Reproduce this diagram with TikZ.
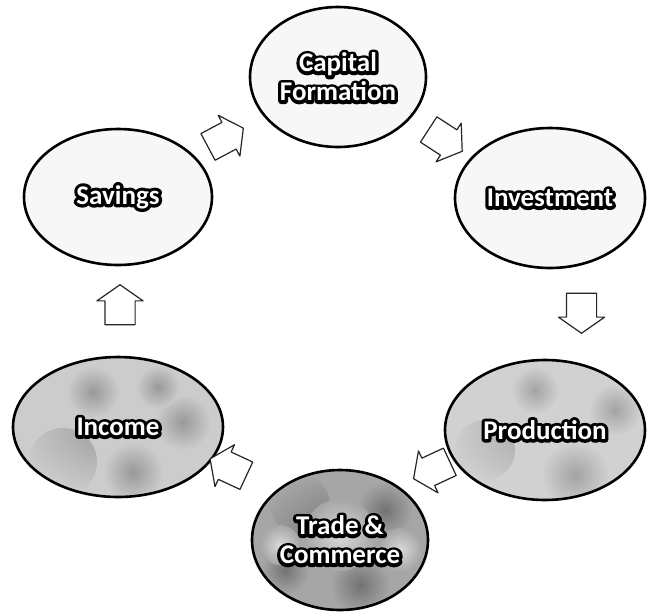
\documentclass[tikz,border=0pt]{standalone}
\usepackage{fontspec}
\newfontfamily\lblfont{Carlito}
% heavily emboldened copy, used as the dark rim behind each label
\newfontfamily\rimfont{Carlito}[FakeBold=24]
\usetikzlibrary{shapes.geometric,shapes.arrows,calc}

% white lettering with a dark, round-cornered rim
\newcommand\rimtext[1]{%
  \special{pdf:literal direct 1 j}%
  \rlap{\rimfont\bfseries\textcolor{black}{#1}}%
  \textcolor{white}{#1}}

\tikzset{
  stage/.style={ellipse, draw=black, line width=2.6pt, inner sep=0pt,
    align=center, font=\lblfont\bfseries\fontsize{27}{29}\selectfont},
  barrow/.style={single arrow, draw=black!85, line width=1.2pt, fill=white,
    inner sep=0pt, minimum height=40, line join=round,
    single arrow head extend=8pt, single arrow tip angle=110}
}
% shaft thickness of the block arrows
\newcommand\shaft{\rule{0pt}{29pt}}

\begin{document}
\begin{tikzpicture}[x=1pt,y=-1pt]
\useasboundingbox (0,0) rectangle (648,614);
\fill[white] (0,0) rectangle (648,614);

% upper stages: nearly white
\node[stage, fill=black!3, minimum width=176, minimum height=140] (cap) at (338,77)
  {\rimtext{Capital}\\\rimtext{Formation}};
\node[stage, fill=black!3, minimum width=188, minimum height=136] (sav) at (118,197)
  {\rimtext{Savings}};
\node[stage, fill=black!3, minimum width=190, minimum height=140] (inv) at (550,198)
  {\rimtext{Investment}};

% lower stages: mottled grey
\node[stage, fill=black!20, minimum width=210, minimum height=140,
  path picture={
    \foreach \px/\py/\pr in {-55/35/34, 15/45/30, 65/-5/28, -25/-35/26, 40/-40/22}{
      \shade[inner color=black!40, outer color=black!20]
        ([shift={(\px,\py)}]path picture bounding box.center) circle (\pr);}
  }] (inc) at (118,427) {\rimtext{Income}};
\node[stage, fill=black!18, minimum width=200, minimum height=140,
  path picture={
    \foreach \px/\py/\pr in {-60/20/30, 30/45/34, 70/-20/26, -10/-40/24}{
      \shade[inner color=black!36, outer color=black!18]
        ([shift={(\px,\py)}]path picture bounding box.center) circle (\pr);}
  }] (prod) at (545,430) {\rimtext{Production}};
\node[stage, fill=black!35, minimum width=176, minimum height=140,
  path picture={
    \foreach \px/\py/\pr in {-40/-35/30, 45/-30/28, 20/45/30, -55/30/24}{
      \shade[inner color=black!55, outer color=black!35]
        ([shift={(\px,\py)}]path picture bounding box.center) circle (\pr);}
    \foreach \px/\py/\pr in {0/-5/36, -60/5/20, 60/10/22}{
      \shade[inner color=black!15, outer color=black!35]
        ([shift={(\px,\py)}]path picture bounding box.center) circle (\pr);}
  }] (trd) at (340,540) {\rimtext{Trade \&}\\\rimtext{Commerce}};

% block arrows around the cycle
\node[barrow, rotate=28]  (a1) at ($(sav)!0.5!(cap)+(-7,3)$) {\shaft};
\node[barrow, rotate=-33] (a2) at ($(cap)!0.5!(inv)+(-3,0)$) {\shaft};
\node[barrow, rotate=-90] (a3) at ($(inv)!0.5!(prod)+(34,-6)$) {\shaft};
\node[barrow, rotate=205] (a4) at ($(prod)!0.5!(trd)+(-6,-17)$) {\shaft};
\node[barrow, rotate=155] (a5) at ($(trd)!0.5!(inc)+(4,-14)$) {\shaft};
\node[barrow, rotate=90]  (a6) at ($(inc)!0.5!(sav)+(2,-2)$) {\shaft};
\end{tikzpicture}
\end{document}
